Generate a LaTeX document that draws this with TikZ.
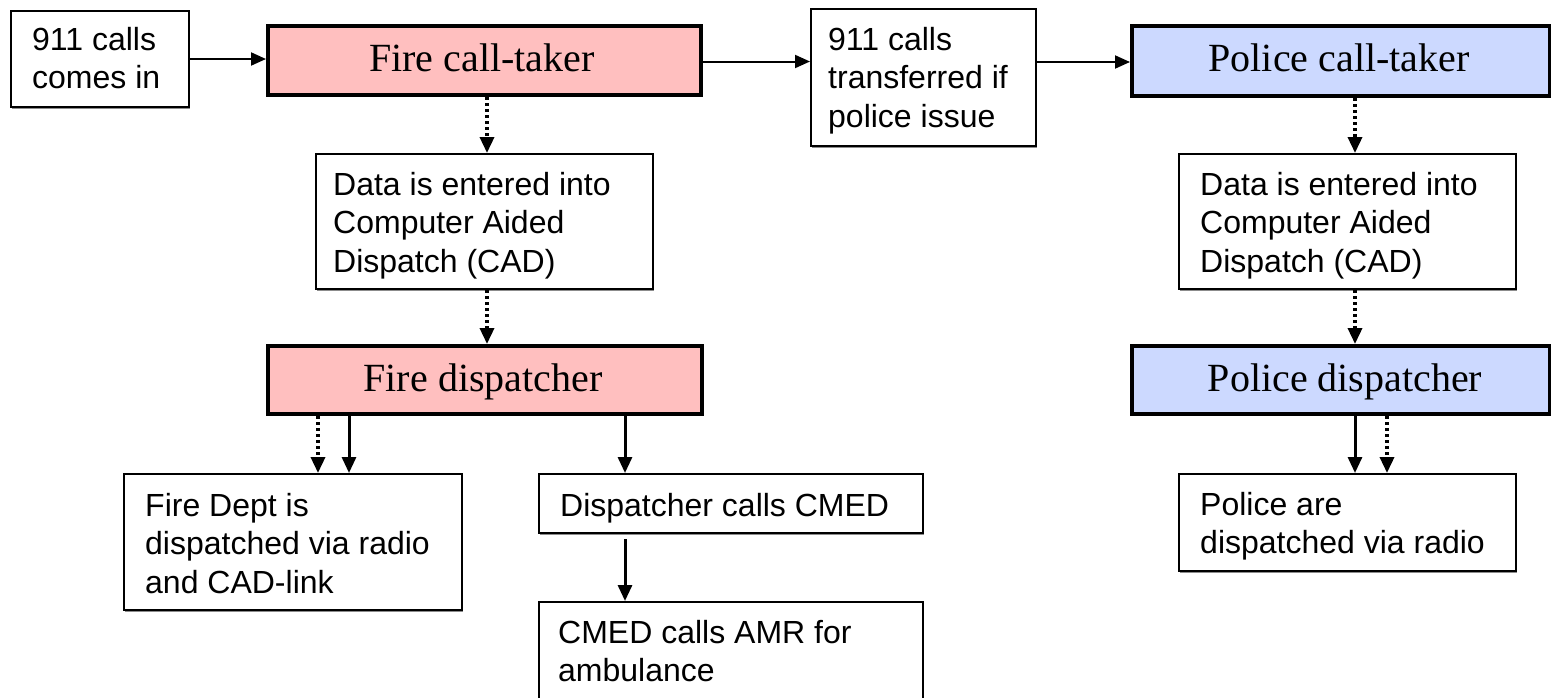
\documentclass[tikz,border=0pt]{standalone}
\usepackage{fontspec}
\setmainfont{Liberation Serif}
\setsansfont{Liberation Sans}
\usetikzlibrary{arrows.meta,shadows}

\definecolor{firepink}{RGB}{255,191,191}
\definecolor{policeblue}{RGB}{204,217,255}

% stacked left-aligned lines whose node baseline is the first line
\newcommand\txtlines[1]{\begin{tabular}[t]{@{}l@{}}#1\end{tabular}}

\tikzset{
  thinbox/.style={draw, line width=2pt, fill=white, inner sep=0pt, anchor=north west,
    drop shadow={shadow xshift=1pt, shadow yshift=-2pt, fill=black!45, opacity=1}},
  rolebox/.style={draw, line width=4pt, inner sep=0pt, anchor=north west},
  firerole/.style={rolebox, fill=firepink},
  policerole/.style={rolebox, fill=policeblue},
  bodytext/.style={anchor=base west, inner sep=0pt,
    font=\sffamily\fontsize{32}{38.5}\selectfont},
  roletext/.style={anchor=base, inner sep=0pt,
    font=\rmfamily\fontsize{40}{46}\selectfont},
  flow/.style={line width=2pt, -{Triangle[length=15pt,width=13pt]}},
  vflow/.style={line width=3pt, -{Triangle[length=16pt,width=14pt]}},
  dflow/.style={line width=3.5pt, dash pattern=on 3pt off 3pt,
    -{Triangle[length=16pt,width=14pt]}},
}

\begin{document}
\begin{tikzpicture}[x=1pt,y=-1pt]
\useasboundingbox (0,0) rectangle (1551,697);
\clip (0,0) rectangle (1551,697);

% ---- boxes ----
\node[thinbox, minimum width=178pt, minimum height=96pt] (incoming) at (10,10) {};
\node[firerole, minimum width=433pt, minimum height=69pt] (firetaker) at (266,24) {};
\node[thinbox, minimum width=225pt, minimum height=137pt] (transfer) at (810,8) {};
\node[policerole, minimum width=418pt, minimum height=70pt] (poltaker) at (1130,24) {};

\node[thinbox, minimum width=337pt, minimum height=135pt] (firecad) at (315,153) {};
\node[thinbox, minimum width=337pt, minimum height=135pt] (polcad) at (1178,153) {};

\node[firerole, minimum width=434pt, minimum height=68pt] (firedisp) at (266,344) {};
\node[policerole, minimum width=418pt, minimum height=68pt] (poldisp) at (1130,344) {};

\node[thinbox, minimum width=338pt, minimum height=136pt] (firedept) at (123,473) {};
\node[thinbox, minimum width=384pt, minimum height=59pt] (callcmed) at (538,473) {};
\node[thinbox, minimum width=384pt, minimum height=130pt] (amr) at (538,601) {};
\node[thinbox, minimum width=337pt, minimum height=97pt] (polradio) at (1178,473) {};

% ---- texts ----
\node[bodytext] (t-incoming) at (32,50) {\txtlines{911 calls\\comes in}};
\node[roletext] (t-firetaker) at (482,71) {Fire call-taker};
\node[bodytext] (t-transfer) at (828,50) {\txtlines{911 calls\\transferred if\\police issue}};
\node[roletext] (t-poltaker) at (1339,71) {Police call-taker};

\node[bodytext] (t-firecad) at (333,195) {\txtlines{Data is entered into\\Computer Aided\\Dispatch (CAD)}};
\node[bodytext] (t-polcad) at (1200,195) {\txtlines{Data is entered into\\Computer Aided\\Dispatch (CAD)}};

\node[roletext] (t-firedisp) at (483,391) {Fire dispatcher};
\node[roletext] (t-poldisp) at (1345,391) {Police dispatcher};

\node[bodytext] (t-firedept) at (145,516) {\txtlines{Fire Dept is\\dispatched via radio\\and CAD-link}};
\node[bodytext] (t-callcmed) at (560,516) {Dispatcher calls CMED};
\node[bodytext] (t-amr) at (558,643) {\txtlines{CMED calls AMR for\\ambulance}};
\node[bodytext] (t-polradio) at (1200,515) {\txtlines{Police are\\dispatched via radio}};

% ---- connectors ----
\draw[flow] (incoming.east) -- (incoming.east -| firetaker.west);
\draw[flow] ([yshift=-1pt]firetaker.east) -- ([yshift=-1pt]firetaker.east -| transfer.west);
\draw[flow] ([yshift=-1pt]poltaker.west -| transfer.east) -- ([yshift=-1pt]poltaker.west);

\draw[dflow] ([xshift=221pt]firetaker.south west) -- ([xshift=221pt]firetaker.south west |- firecad.north);
\draw[dflow] ([xshift=221pt]firedisp.north west |- firecad.south) -- ([xshift=221pt]firedisp.north west);

\draw[dflow] ([xshift=225pt]poltaker.south west) -- ([xshift=225pt]poltaker.south west |- polcad.north);
\draw[dflow] ([xshift=225pt]poldisp.north west |- polcad.south) -- ([xshift=225pt]poldisp.north west);

\draw[dflow] ([xshift=52pt]firedisp.south west) -- ([xshift=52pt]firedisp.south west |- firedept.north);
\draw[vflow] ([xshift=83pt]firedisp.south west) -- ([xshift=83pt]firedisp.south west |- firedept.north);
\draw[vflow] ([xshift=359pt]firedisp.south west) -- ([xshift=359pt]firedisp.south west |- callcmed.north);
\draw[vflow] ([xshift=87pt,yshift=-5pt]callcmed.south west) -- ([xshift=87pt]callcmed.south west |- amr.north);

\draw[vflow] ([xshift=225pt]poldisp.south west) -- ([xshift=225pt]poldisp.south west |- polradio.north);
\draw[dflow] ([xshift=257pt]poldisp.south west) -- ([xshift=257pt]poldisp.south west |- polradio.north);
\end{tikzpicture}
\end{document}
